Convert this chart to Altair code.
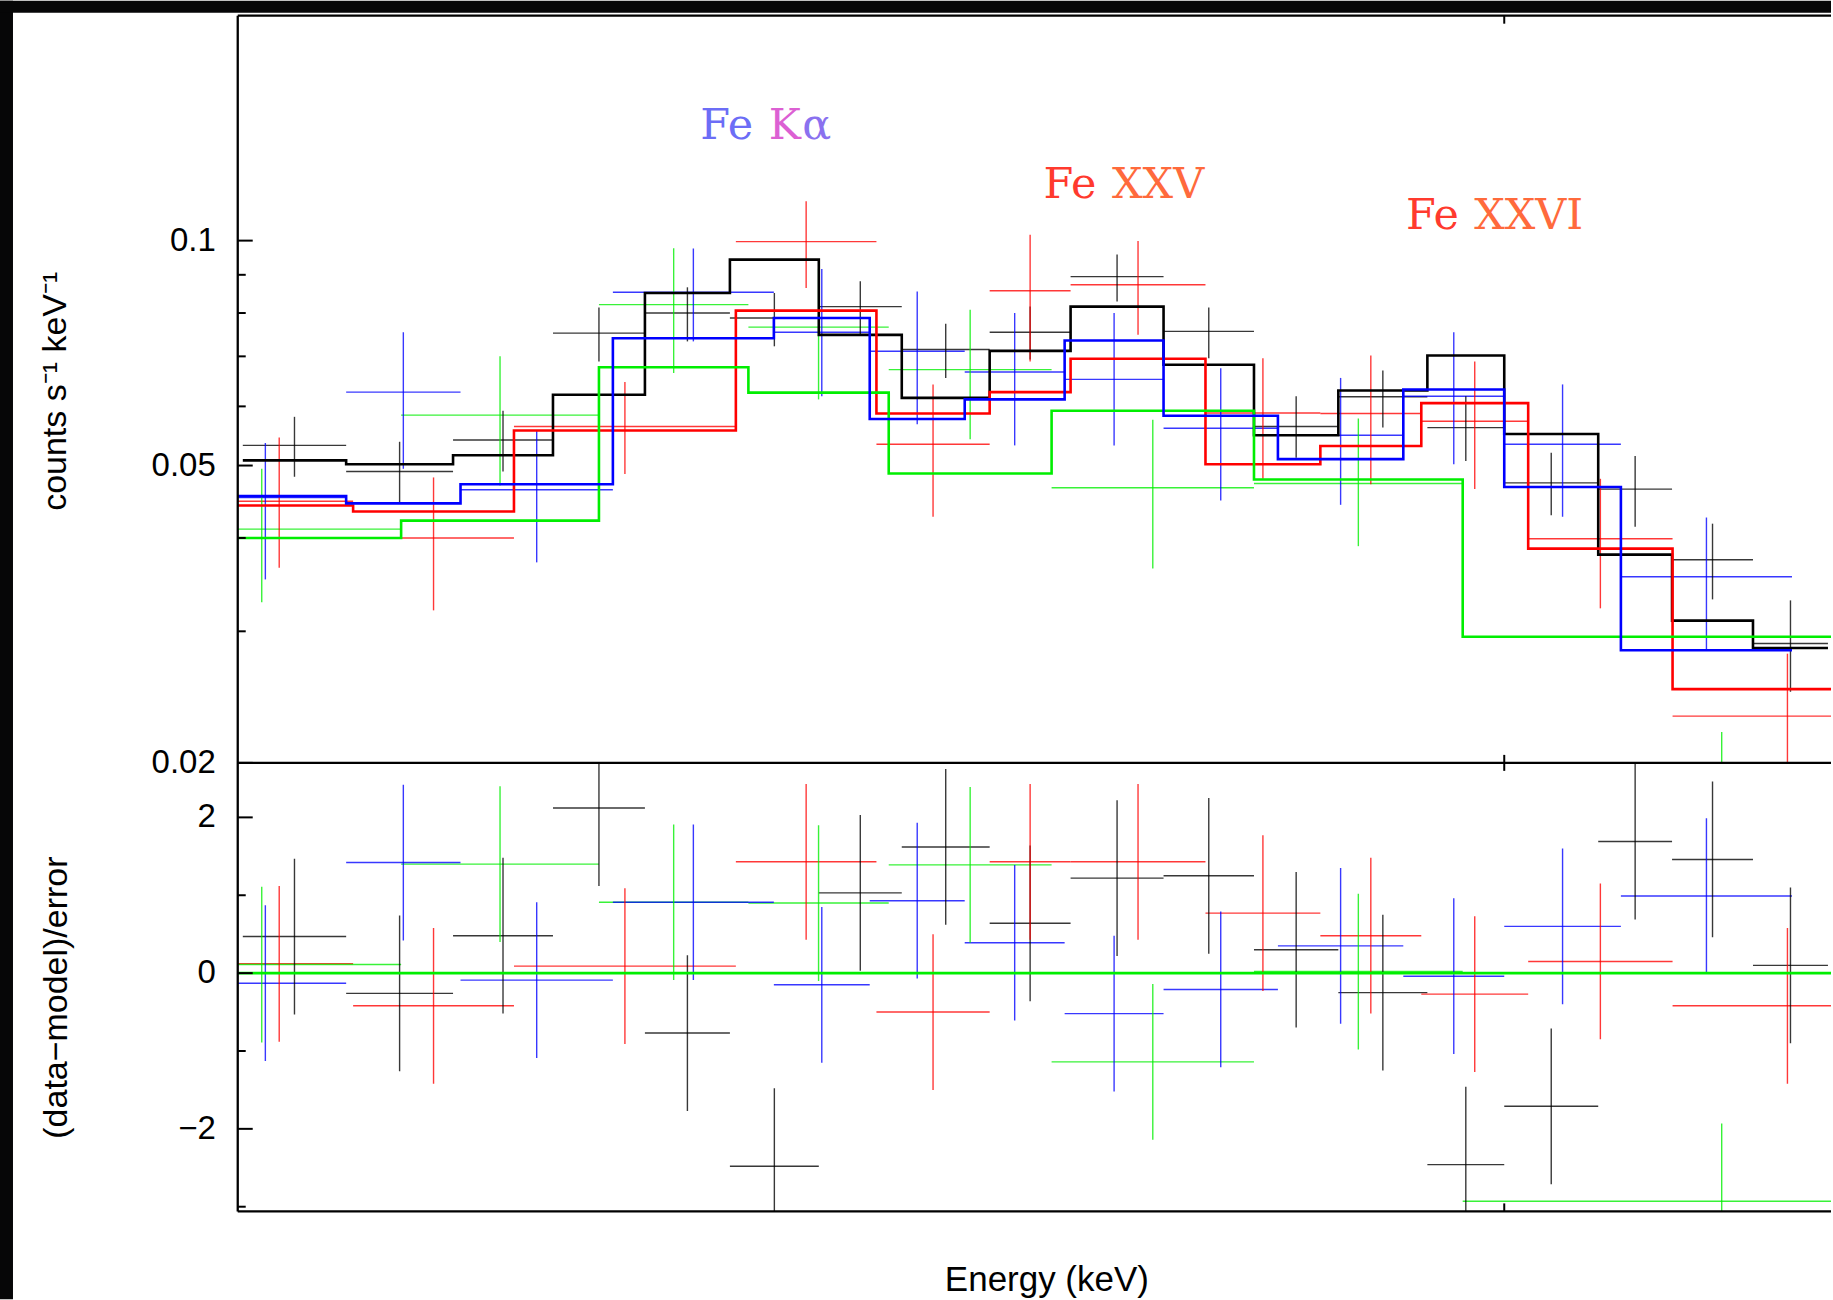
import altair as alt
import pandas as pd

# ---------------- axis ranges, ticks and tick labels ----------------
energy_range = [6.0, 7.258]          # keV
rate_range = [0.02, 0.2]             # counts s^-1 keV^-1 (log)
resid_range = [-3.06, 2.70]          # (data-model)/error

rate_major_ticks = [0.02, 0.05, 0.1]
rate_major_labels = ["0.02", "0.05", "0.1"]
rate_minor_ticks = [0.03, 0.04, 0.06, 0.07, 0.08, 0.09]
resid_major_ticks = [-2, 0, 2]
resid_major_labels = ["−2", "0", "2"]
resid_minor_ticks = [-3, -1, 1]
energy_ticks = [7.0]
zero_level = [0.0]

series_names = ["black", "red", "green", "blue"]
series_colors = ["#000000", "#ff0000", "#00ee00", "#0000ff"]

# ---------------- spectra: bin edges (keV), folded model, data, errors, residuals ----------------
black_edges = [6.004, 6.0856, 6.1700, 6.2489, 6.3215, 6.3886, 6.4588, 6.5243, 6.5937, 6.6576,
               6.7310, 6.8024, 6.8690, 6.9393, 7.0000, 7.0742, 7.1325, 7.1964, 7.2556]
black_model = [0.0508, 0.0502, 0.0516, 0.0622, 0.0851, 0.0943, 0.0748, 0.0616, 0.0712, 0.0816,
               0.0682, 0.0549, 0.0630, 0.0702, 0.0551, 0.0380, 0.0310, 0.0285]
black_rate = [0.0532, 0.0491, 0.0541, 0.0752, 0.0800, 0.0788, 0.0816, 0.0715, 0.0754, 0.0895,
              0.0756, 0.0564, 0.0618, 0.0562, 0.0474, 0.0465, 0.0374, 0.0289]
black_hi = [0.0581, 0.0538, 0.0592, 0.0814, 0.0866, 0.0851, 0.0882, 0.0774, 0.0816, 0.0958,
            0.0814, 0.0619, 0.0670, 0.0619, 0.0520, 0.0515, 0.0418, 0.0330]
black_lo = [0.0483, 0.0446, 0.0491, 0.0689, 0.0733, 0.0722, 0.0748, 0.0655, 0.0693, 0.0829,
            0.0696, 0.0512, 0.0562, 0.0507, 0.0429, 0.0414, 0.0331, 0.0249]
black_resid = [0.47, -0.26, 0.48, 2.12, -0.77, -2.48, 1.03, 1.62, 0.64, 1.22,
               1.25, 0.30, -0.25, -2.46, -1.71, 1.69, 1.46, 0.10]

red_edges = [5.9744, 6.0911, 6.2181, 6.3933, 6.5043, 6.5937, 6.6576, 6.7641, 6.8548, 6.9345,
             7.0189, 7.1329, 7.3143]
red_model = [0.0442, 0.0434, 0.0557, 0.0806, 0.0587, 0.0627, 0.0695, 0.0502, 0.0531, 0.0606,
             0.0387, 0.0251]
red_rate = [0.0448, 0.0400, 0.0564, 0.0997, 0.0534, 0.0857, 0.0873, 0.0588, 0.0587, 0.0573,
            0.0399, 0.0231]
red_hi = [0.0545, 0.0482, 0.0647, 0.1129, 0.0642, 0.1018, 0.0999, 0.0696, 0.0702, 0.0689,
          0.0480, 0.0280]
red_lo = [0.0365, 0.0320, 0.0487, 0.0864, 0.0427, 0.0689, 0.0748, 0.0480, 0.0472, 0.0465,
          0.0322, 0.0190]
red_resid = [0.12, -0.42, 0.09, 1.43, -0.50, 1.43, 1.43, 0.77, 0.48, -0.27, 0.15, -0.42]

green_edges = [5.9089, 6.1290, 6.2852, 6.4032, 6.5140, 6.6426, 6.8024, 6.9672, 7.3762]
green_model = [0.0400, 0.0422, 0.0677, 0.0626, 0.0488, 0.0592, 0.0479, 0.0295]
green_rate = [0.0411, 0.0584, 0.0821, 0.0766, 0.0672, 0.0467, 0.0473, 0.0175]
green_hi = [0.0495, 0.0700, 0.0977, 0.0917, 0.0808, 0.0576, 0.0578, 0.0220]
green_lo = [0.0328, 0.0470, 0.0665, 0.0613, 0.0542, 0.0364, 0.0390, 0.0140]
green_resid = [0.11, 1.40, 0.91, 0.90, 1.39, -1.14, 0.02, -2.93]

blue_edges = [5.958, 6.0856, 6.1759, 6.2962, 6.4233, 6.4990, 6.5740, 6.6529, 6.7310, 6.8213,
              6.9203, 7.0000, 7.0921, 7.2272]
blue_model = [0.0455, 0.0445, 0.0472, 0.0740, 0.0788, 0.0577, 0.0613, 0.0735, 0.0583, 0.0510,
              0.0632, 0.0468, 0.0283]
blue_rate = [0.0453, 0.0627, 0.0464, 0.0853, 0.0754, 0.0711, 0.0667, 0.0652, 0.0561, 0.0549,
             0.0619, 0.0534, 0.0355]
blue_hi = [0.0536, 0.0754, 0.0556, 0.0976, 0.0916, 0.0855, 0.0800, 0.0800, 0.0675, 0.0655,
           0.0754, 0.0642, 0.0426]
blue_lo = [0.0352, 0.0495, 0.0371, 0.0733, 0.0619, 0.0568, 0.0532, 0.0532, 0.0449, 0.0443,
           0.0502, 0.0427, 0.0283]
blue_resid = [-0.13, 1.42, -0.09, 0.91, -0.15, 0.93, 0.39, -0.52, -0.21, 0.35, -0.04, 0.60, 0.99]

# ---------------- line identifications ----------------
label_text = ["Fe", "K", "α", "Fe", "XXV", "Fe", "XXVI"]
label_energy = [6.4070, 6.4193, 6.4458, 6.6780, 6.6903, 6.9642, 6.9763]
label_rate = [0.1368, 0.1368, 0.1368, 0.1139, 0.1139, 0.1038, 0.1038]
label_anchor = ["right", "left", "left", "right", "left", "right", "left"]
label_color = ["#6c6df6", "#dc60d3", "#8a71ef", "#ff3a2e", "#ff6a3c", "#ff3a2e", "#ff6a3c"]

# ---------------- tables ----------------
spectra = {
    "black": (black_edges, black_model, black_rate, black_hi, black_lo, black_resid),
    "red": (red_edges, red_model, red_rate, red_hi, red_lo, red_resid),
    "green": (green_edges, green_model, green_rate, green_hi, green_lo, green_resid),
    "blue": (blue_edges, blue_model, blue_rate, blue_hi, blue_lo, blue_resid),
}

model_rows, data_rows = [], []
for name in series_names:
    edges, model, rate, hi, lo, resid = spectra[name]
    for i, m in enumerate(model):
        model_rows.append({"series": name, "E": edges[i], "model": m})
    model_rows.append({"series": name, "E": edges[-1], "model": model[-1]})
    for i in range(len(model)):
        data_rows.append({
            "series": name,
            "lo": edges[i], "hi": edges[i + 1], "mid": (edges[i] + edges[i + 1]) / 2,
            "rate": rate[i], "up": hi[i], "down": lo[i],
            "resid": resid[i], "r_up": resid[i] + 1, "r_down": resid[i] - 1,
        })
model_df = pd.DataFrame(model_rows)
data_df = pd.DataFrame(data_rows)
one = pd.DataFrame({"k": [0]})

# ---------------- geometry and styling ----------------
W, H1, H2 = 1595, 748, 449
SANS = "Liberation Sans"
FRAME_W = 2.3
TICK_W = 2.0

x_scale = alt.Scale(domain=energy_range, nice=False, zero=False)
rate_scale = alt.Scale(type="log", domain=rate_range, nice=False)
resid_scale = alt.Scale(domain=resid_range, nice=False, zero=False)
color_enc = alt.Color("series:N", scale=alt.Scale(domain=series_names, range=series_colors), legend=None)


def frame_rule(**enc):
    return alt.Chart(one).mark_rule(color="black", strokeWidth=FRAME_W).encode(**enc)


def axis_text(text, x, y, size, angle=0, baseline="middle"):
    return alt.Chart(one).mark_text(
        text=text, font=SANS, fontSize=size, color="black", angle=angle,
        align="center", baseline=baseline,
    ).encode(x=alt.value(x), y=alt.value(y))


def tick_labels(values, labels, scale):
    df = pd.DataFrame({"v": values, "label": labels})
    return alt.Chart(df).mark_text(
        font=SANS, fontSize=33, color="black", align="right", baseline="middle"
    ).encode(x=alt.value(-22), y=alt.Y("v:Q", scale=scale, axis=None), text="label:N")


def y_ticks(values, scale, length):
    return alt.Chart(pd.DataFrame({"v": values})).mark_rule(color="black", strokeWidth=TICK_W).encode(
        x=alt.value(0), x2=alt.value(length), y=alt.Y("v:Q", scale=scale, axis=None))


def x_ticks(y0, y1):
    return alt.Chart(pd.DataFrame({"e": energy_ticks})).mark_rule(color="black", strokeWidth=TICK_W).encode(
        x=alt.X("e:Q", scale=x_scale, axis=None), y=alt.value(y0), y2=alt.value(y1))


# ---------------- upper panel: folded spectra ----------------
backdrop = [
    alt.Chart(one).mark_rect(color="#060607").encode(
        x=alt.value(-238), x2=alt.value(-225), y=alt.value(-15), y2=alt.value(1285)),
    alt.Chart(one).mark_rect(color="#060607").encode(
        x=alt.value(-238), x2=alt.value(W), y=alt.value(-15), y2=alt.value(-3)),
]

data_h = alt.Chart(data_df).mark_rule(strokeWidth=1.4, opacity=0.78, clip=True).encode(
    x=alt.X("lo:Q", scale=x_scale, axis=None), x2="hi:Q",
    y=alt.Y("rate:Q", scale=rate_scale, axis=None), color=color_enc)
data_v = alt.Chart(data_df).mark_rule(strokeWidth=1.4, opacity=0.78, clip=True).encode(
    x=alt.X("mid:Q", scale=x_scale, axis=None),
    y=alt.Y("up:Q", scale=rate_scale, axis=None), y2="down:Q", color=color_enc)
model_line = alt.Chart(model_df).mark_line(interpolate="step-after", strokeWidth=2.6, clip=True).encode(
    x=alt.X("E:Q", scale=x_scale, axis=None),
    y=alt.Y("model:Q", scale=rate_scale, axis=None), color=color_enc)

label_df = pd.DataFrame({"text": label_text, "E": label_energy, "rate": label_rate,
                         "anchor": label_anchor, "color": label_color})
label_layers = []
for idx, row in label_df.iterrows():
    label_layers.append(
        alt.Chart(label_df.loc[[idx]])
        .mark_text(align=row["anchor"], baseline="alphabetic", font="DejaVu Serif",
                   fontSize=43, color=row["color"])
        .encode(x=alt.X("E:Q", scale=x_scale, axis=None),
                y=alt.Y("rate:Q", scale=rate_scale, axis=None), text="text:N"))

top = alt.layer(
    *backdrop,
    data_h, data_v, model_line,
    *label_layers,
    y_ticks(rate_major_ticks, rate_scale, 15),
    y_ticks(rate_minor_ticks, rate_scale, 8),
    x_ticks(0, 8), x_ticks(H1 - 8, H1),
    tick_labels(rate_major_ticks, rate_major_labels, rate_scale),
    axis_text("counts s⁻¹ keV⁻¹", -182, 376, 34, angle=270),
    frame_rule(x=alt.value(0), x2=alt.value(W), y=alt.value(0)),
    frame_rule(x=alt.value(0), y=alt.value(0), y2=alt.value(H1)),
    frame_rule(x=alt.value(0), x2=alt.value(W), y=alt.value(H1)),
).properties(width=W, height=H1)

# ---------------- lower panel: residuals ----------------
resid_h = alt.Chart(data_df).mark_rule(strokeWidth=1.4, opacity=0.78, clip=True).encode(
    x=alt.X("lo:Q", scale=x_scale, axis=None), x2="hi:Q",
    y=alt.Y("resid:Q", scale=resid_scale, axis=None), color=color_enc)
resid_v = alt.Chart(data_df).mark_rule(strokeWidth=1.4, opacity=0.78, clip=True).encode(
    x=alt.X("mid:Q", scale=x_scale, axis=None),
    y=alt.Y("r_up:Q", scale=resid_scale, axis=None), y2="r_down:Q", color=color_enc)
zero_line = alt.Chart(pd.DataFrame({"r": zero_level})).mark_rule(color="#00ee00", strokeWidth=2.6).encode(
    x=alt.value(0), x2=alt.value(W), y=alt.Y("r:Q", scale=resid_scale, axis=None))

bottom = alt.layer(
    resid_h, resid_v, zero_line,
    y_ticks(resid_major_ticks, resid_scale, 15),
    y_ticks(resid_minor_ticks, resid_scale, 8),
    x_ticks(0, 8), x_ticks(H2 - 8, H2),
    tick_labels(resid_major_ticks, resid_major_labels, resid_scale),
    axis_text("(data−model)/error", -181, 235, 34, angle=270),
    axis_text("Energy (keV)", 810, H2 + 79.5, 35, baseline="alphabetic"),
    frame_rule(x=alt.value(0), y=alt.value(0), y2=alt.value(H2)),
    frame_rule(x=alt.value(0), x2=alt.value(W), y=alt.value(H2)),
).properties(width=W, height=H2)

chart = (
    alt.vconcat(top, bottom, spacing=0, bounds="flush")
    .properties(padding=0, background="white")
    .configure_view(strokeWidth=0)
)

chart.save("out.html", embed_options={"renderer": "svg", "actions": False})
